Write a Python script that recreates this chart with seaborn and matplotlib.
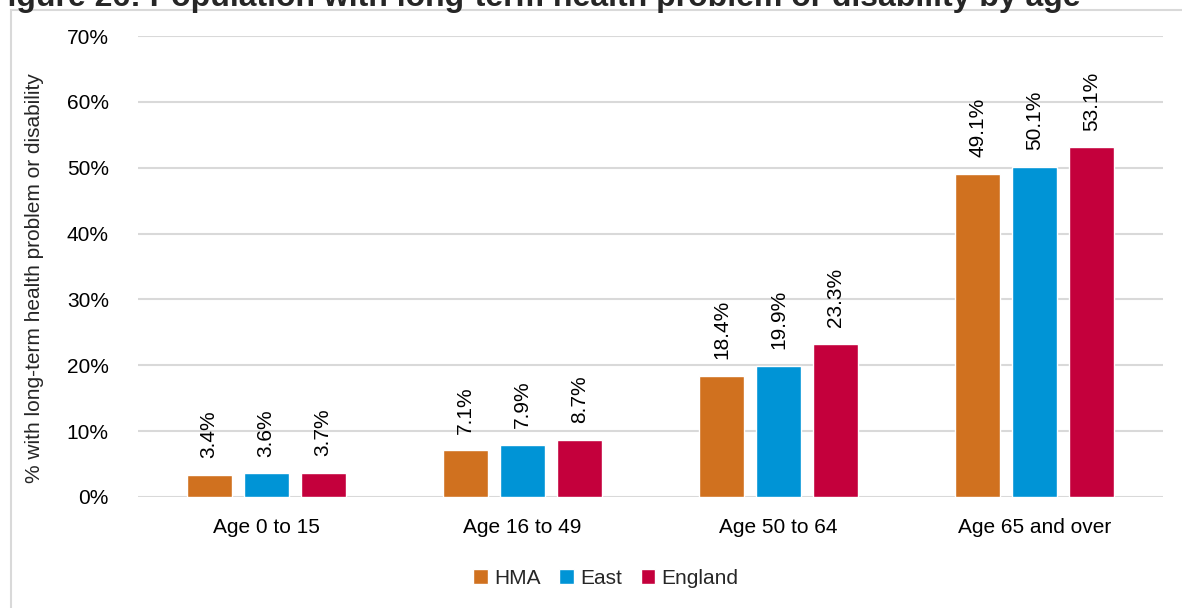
import seaborn as sns
import matplotlib.pyplot as plt
import matplotlib.patches as mpatches
import pandas as pd

# Data
age_groups = ["Age 0 to 15", "Age 16 to 49", "Age 50 to 64", "Age 65 and over"]
areas = ["HMA", "East", "England"]
hma = [3.4, 7.1, 18.4, 49.1]
east = [3.6, 7.9, 19.9, 50.1]
england = [3.7, 8.7, 23.3, 53.1]
y_ticks = [0, 10, 20, 30, 40, 50, 60, 70]

colours = {"HMA": "#D0711F", "East": "#0094D6", "England": "#C4003C"}
title = "Figure 26: Population with long-term health problem or disability by age"

df = pd.DataFrame({
    "age": age_groups * 3,
    "area": ["HMA"] * 4 + ["East"] * 4 + ["England"] * 4,
    "value": hma + east + england,
})

sns.set_style("white")
plt.rcParams["font.family"] = ["Liberation Sans", "DejaVu Sans"]

fig = plt.figure(figsize=(11.82, 6.08), dpi=100)
ax = fig.add_axes([138 / 1182, 1 - 497 / 608, (1163 - 138) / 1182, (497 - 36) / 608])

sns.barplot(data=df, x="age", y="value", hue="area", order=age_groups,
            hue_order=areas, palette=colours, width=0.668, gap=0.21,
            saturation=1, ax=ax, legend=True)

for cont in ax.containers:
    ax.bar_label(cont, labels=[f"{v:.1f}%" for v in cont.datavalues],
                 rotation=90, padding=12, fontsize=15, color="#000000")

ax.set_ylim(0, 70)
ax.set_xlim(-0.5, 3.5)
ax.set_yticks(y_ticks)
ax.set_yticklabels([f"{t}%" for t in y_ticks])
ax.yaxis.grid(True, color="#d9d9d9", linewidth=1.5)
ax.set_axisbelow(True)
for s in ax.spines.values():
    s.set_visible(False)
ax.tick_params(axis="both", length=0, labelsize=15, colors="#000000")
ax.tick_params(axis="y", pad=21)
ax.tick_params(axis="x", pad=15)
ax.set_xlabel("")
ax.set_ylabel("% with long-term health problem or disability", fontsize=15)
ax.yaxis.set_label_coords(-(138 - 44) / 1025, 0.475)

handles, labels = ax.get_legend_handles_labels()
ax.legend(handles, labels, loc="center", bbox_to_anchor=(606 / 1182, 1 - 578 / 608),
          bbox_transform=fig.transFigure, ncol=3, frameon=False, fontsize=15,
          handlelength=0.7, handleheight=0.7, handletextpad=0.3, columnspacing=0.9)

# light grey frame around the chart, cut by the image edges
fig.patches.append(mpatches.Rectangle((11 / 1182, -0.1), 1.2, 1 - 10 / 608 + 0.1,
                                      transform=fig.transFigure, fill=False,
                                      edgecolor="#d9d9d9", linewidth=1.5))
fig.text(-12 / 1182, 1 - 6 / 608, title, fontsize=23, fontweight="bold",
         family=["Liberation Sans", "DejaVu Sans"], va="baseline", ha="left")

fig.savefig("out.png", dpi=100)
